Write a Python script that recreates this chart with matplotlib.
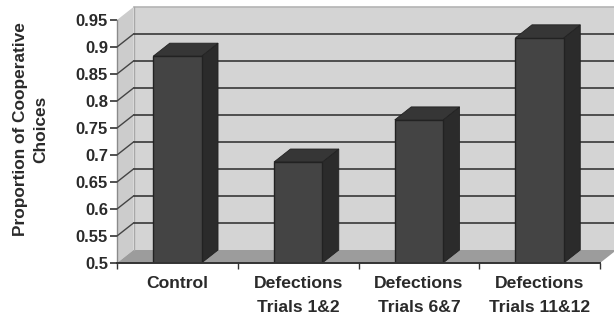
import matplotlib
matplotlib.use('Agg')
import matplotlib.pyplot as plt
from matplotlib.patches import Polygon
import numpy as np

categories = ['Control', 'Defections\nTrials 1&2', 'Defections\nTrials 6&7', 'Defections\nTrials 11&12']
values = [0.883, 0.687, 0.765, 0.917]
y_ticks = [0.5, 0.55, 0.6, 0.65, 0.7, 0.75, 0.8, 0.85, 0.9, 0.95]
y_labels = ['0.5', '0.55', '0.6', '0.65', '0.7', '0.75', '0.8', '0.85', '0.9', '0.95']

plt.rcParams['font.family'] = ['Liberation Sans', 'DejaVu Sans']
W, H = 614, 320
fig = plt.figure(figsize=(W/100, H/100), dpi=100, facecolor='white')

# front plane of the fake 3d box, in pixels
left, right, bottom, top = 117, 600, 263, 20
ax = fig.add_axes([left/W, 1-bottom/H, (right-left)/W, (bottom-top)/H])
ax.set_xlim(0, 4)
ax.set_ylim(0.5, 0.95)
ax.patch.set_visible(False)

# depth offset
dx = 16.5 / ((right-left)/4)
dy = 13 / ((bottom-top)/0.45)
y0, y1 = 0.5, 0.95

def poly(pts, color, z, ec='none', lw=0):
    ax.add_patch(Polygon(pts, closed=True, fc=color, ec=ec, lw=lw, zorder=z, clip_on=False))

# back wall, side wall, floor
poly([(dx, y0+dy), (4+dx, y0+dy), (4+dx, y1+dy), (dx, y1+dy)], '#d4d4d4', 1)
poly([(0, y0), (dx, y0+dy), (dx, y1+dy), (0, y1)], '#cccccc', 1)
poly([(0, y0), (4, y0), (4+dx, y0+dy), (dx, y0+dy)], '#9c9c9c', 1.5)
ax.plot([dx, 4+dx], [y1+dy, y1+dy], color='#b4b4b4', lw=1.2, zorder=1.6, clip_on=False)
ax.plot([dx, dx], [y0+dy, y1+dy], color='#a8a8a8', lw=1, zorder=1.6, clip_on=False)
ax.plot([0, 0], [y0, y1], color='#8a8a8a', lw=1, zorder=1.6, clip_on=False)

# gridlines on the walls
for t in y_ticks[1:-1]:
    ax.plot([dx, 4+dx], [t+dy, t+dy], color='#2a2a2a', lw=1.1, zorder=2, clip_on=False)
    ax.plot([0, dx], [t, t+dy], color='#444444', lw=1, zorder=2, clip_on=False)

# bars
x = np.arange(4) + 0.5
w = 0.4
ax.bar(x, np.array(values)-y0, w, bottom=y0, color='#444444', edgecolor='#222222', lw=1, zorder=4)
for xi, v in zip(x, values):
    a, b = xi-w/2, xi+w/2
    poly([(b, y0), (b+dx, y0+dy), (b+dx, v+dy), (b, v)], '#2b2b2b', 3.5, '#222222', 0.6)
    poly([(a, v), (b, v), (b+dx, v+dy), (a+dx, v+dy)], '#363636', 3.5, '#222222', 0.6)

# axes lines and ticks
for s in ['top', 'right']:
    ax.spines[s].set_visible(False)
ax.spines['left'].set_visible(False)
ax.spines['bottom'].set_color('#333333')
ax.spines['bottom'].set_linewidth(1.4)
ax.spines['bottom'].set_zorder(5)

ax.set_yticks(y_ticks)
ax.set_yticklabels(y_labels, fontsize=12, fontweight='bold', color='#2a2a2a')
ax.tick_params(axis='y', length=5, width=1.2, color='#333333', pad=1.5)
ax.set_xticks([0, 1, 2, 3, 4])
ax.set_xticklabels([])
ax.tick_params(axis='x', length=4, width=1, color='#333333')

for xi, c in zip(x, categories):
    ax.annotate(c, (xi, y0), xytext=(0, -9.5), textcoords='offset points', ha='center', va='top',
                fontsize=12.6, fontweight='bold', color='#2a2a2a', linespacing=1.75, annotation_clip=False)

fig.text(31/W, 1-129.5/H, 'Proportion of Cooperative\nChoices', rotation=90, ha='center', va='center',
         fontsize=12.4, fontweight='bold', color='#2a2a2a', linespacing=1.45, multialignment='center')

fig.savefig('out.png', dpi=100, facecolor='white')
